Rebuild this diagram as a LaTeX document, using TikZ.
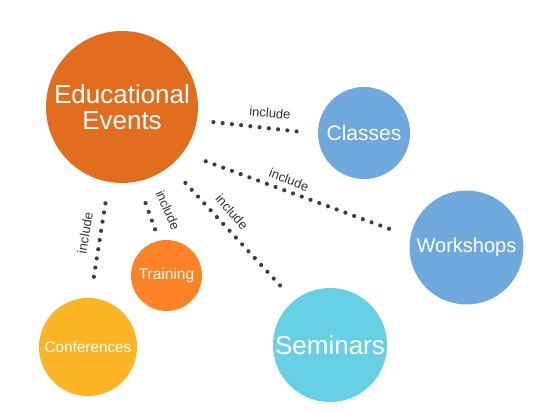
\documentclass[tikz,border=0pt]{standalone}
\usepackage{fontspec}
\setmainfont{Liberation Sans}
\definecolor{eeorange}{HTML}{E26D1F}
\definecolor{blueb}{HTML}{6FA8DC}
\definecolor{cyanb}{HTML}{68D0E5}
\definecolor{trainor}{HTML}{FF8226}
\definecolor{confyel}{HTML}{FDB525}
\definecolor{dotgray}{HTML}{3F3F3F}
\definecolor{lblgray}{HTML}{333333}
\begin{document}
\begin{tikzpicture}[x=1pt,y=-1pt,
  bubble/.style={circle,inner sep=0pt,text=white},
  dotline/.style={draw=dotgray,line width=4.2pt,line cap=round,dash pattern=on 0pt off 9.3pt},
  lbl/.style={text=lblgray,font=\fontsize{13}{13}\selectfont,inner sep=0pt}]
\useasboundingbox (0,0) rectangle (548,412);
\fill[white] (0,0) rectangle (548,412);
% bubbles
\node[bubble,fill=eeorange,minimum size=152pt,align=center,font=\fontsize{26}{26}\selectfont] (ee) at (122,107) {Educational\\Events};
\node[bubble,fill=blueb,minimum size=92pt,font=\fontsize{21}{21}\selectfont] (classes) at (364,133) {Classes};
\node[bubble,fill=blueb,minimum size=114pt,font=\fontsize{20}{20}\selectfont] (workshops) at (466.5,247.5) {Workshops};
\node[bubble,fill=cyanb,minimum size=114pt,font=\fontsize{26}{26}\selectfont] (seminars) at (330,345) {Seminars};
\node[bubble,fill=trainor,minimum size=71pt,font=\fontsize{15.5}{15.5}\selectfont] (training) at (166.5,275.5) {Training};
\node[bubble,fill=confyel,minimum size=98pt,font=\fontsize{15.3}{15.3}\selectfont] (conferences) at (88,347) {Conferences};
% connectors
\draw[dotline,shorten <=16.45pt,shorten >=12.1pt] (ee.-10.8) -- (classes.181.6);
\draw[dotline,shorten <=24.4pt,shorten >=15.35pt] (ee.-37.8) -- (workshops.169.7);
\draw[dotline,shorten <=22.75pt,shorten >=12.5pt] (ee.-51.2) -- (seminars.129.8);
\draw[dotline,shorten <=22.9pt,shorten >=11.5pt] (ee.-78.5) -- (training.102.2);
\draw[dotline,shorten <=21.5pt,shorten >=13.2pt] (ee.-100.3) -- (conferences.87.8);
% labels
\node[lbl,rotate=-5] (l1) at (270,113) {include};
\node[lbl,rotate=-21] (l2) at (289,180) {include};
\node[lbl,rotate=-48] (l3) at (232,212) {include};
\node[lbl,rotate=-66] (l4) at (168,210) {include};
\node[lbl,rotate=80] (l5) at (85,233) {include};
\end{tikzpicture}
\end{document}
